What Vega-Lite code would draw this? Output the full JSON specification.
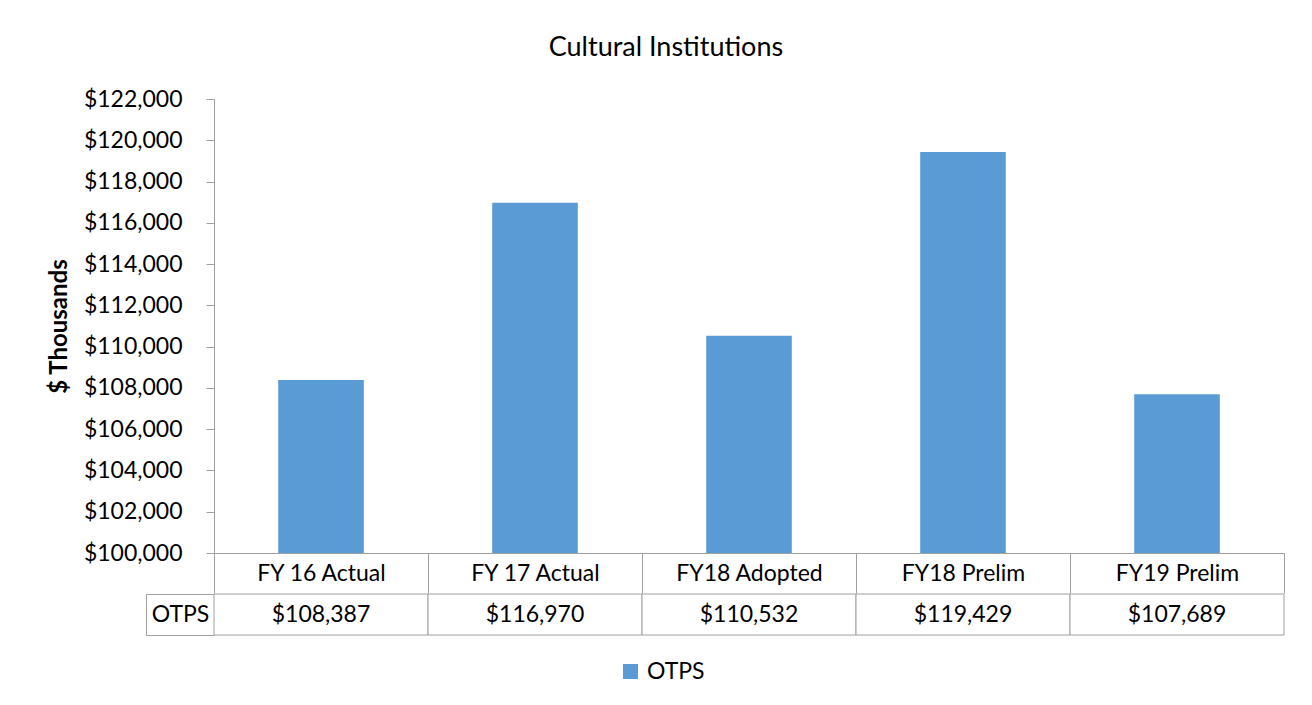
{
  "$schema": "https://vega.github.io/schema/vega-lite/v6.json",
  "padding": {"left": 47, "top": 34, "right": 5, "bottom": 5},
  "background": "white",
  "title": {"text": "Cultural Institutions", "font": "Lato", "fontSize": 27, "fontWeight": "normal", "color": "#000000", "anchor": "middle", "offset": 26},
  "datasets": {
    "main": [
      {"period": "FY 16 Actual", "series": "OTPS", "value": 108387},
      {"period": "FY 17 Actual", "series": "OTPS", "value": 116970},
      {"period": "FY18 Adopted", "series": "OTPS", "value": 110532},
      {"period": "FY18 Prelim", "series": "OTPS", "value": 119429},
      {"period": "FY19 Prelim", "series": "OTPS", "value": 107689}
    ]
  },
  "data": {"name": "main"},
  "spacing": -14,
  "resolve": {"scale": {"x": "independent", "y": "independent"}},
  "vconcat": [
    {
      "width": 1070,
      "height": 454,
      "mark": {"type": "bar", "clip": true, "width": {"band": 0.4}},
      "encoding": {
        "x": {
          "field": "period", "type": "nominal", "sort": null,
          "scale": {"paddingInner": 0, "paddingOuter": 0},
          "axis": {
            "title": null, "orient": "bottom", "ticks": true, "tickBand": "extent", "tickExtra": true,
            "tickSize": 40, "labelPadding": -20, "labelBaseline": "middle", "labelAngle": 0,
            "domainColor": "#a0a0a0", "tickColor": "#a0a0a0",
            "labelFont": "Lato", "labelFontSize": 23, "labelColor": "#000000"
          }
        },
        "y": {
          "field": "value", "type": "quantitative",
          "scale": {"domain": [100000, 122000], "zero": false, "nice": false},
          "axis": {
            "title": "$ Thousands", "titleFont": "Lato", "titleFontSize": 24, "titleFontWeight": "bold", "titleColor": "#000000", "titlePadding": 12,
            "format": "$,.0f",
            "values": [100000, 102000, 104000, 106000, 108000, 110000, 112000, 114000, 116000, 118000, 120000, 122000],
            "tickSize": 8, "labelPadding": 24, "grid": false,
            "domainColor": "#a0a0a0", "tickColor": "#a0a0a0",
            "labelFont": "Lato", "labelFontSize": 23, "labelColor": "#000000"
          }
        },
        "color": {
          "datum": "OTPS", "type": "nominal",
          "scale": {"range": ["#5B9BD5"]},
          "legend": {
            "title": null, "orient": "none", "legendX": 405, "legendY": 561, "padding": 0, "symbolType": "square", "symbolSize": 225,
            "symbolStrokeWidth": 0, "labelFont": "Lato", "labelFontSize": 23, "labelColor": "#000000",
            "labelOffset": 5
          }
        }
      }
    },
    {
      "width": 1070,
      "height": 41,
      "layer": [
        {
          "mark": {"type": "rect", "fill": "white", "stroke": "#a0a0a0", "strokeWidth": 1},
          "encoding": {
            "x": {"field": "period", "type": "nominal", "sort": null, "scale": {"paddingInner": 0, "paddingOuter": 0}, "axis": null},
            "y": {
              "field": "series", "type": "nominal", "scale": {"paddingInner": 0, "paddingOuter": 0},
              "axis": {
                "title": null, "orient": "left", "offset": 68, "domain": true, "domainColor": "#a0a0a0",
                "ticks": true, "tickBand": "extent", "tickExtra": true, "tickSize": -68, "tickColor": "#a0a0a0",
                "labelPadding": 34, "labelAlign": "center", "labelBaseline": "middle",
                "labelFont": "Lato", "labelFontSize": 23, "labelColor": "#000000"
              }
            }
          }
        },
        {
          "mark": {"type": "text", "font": "Lato", "fontSize": 23, "color": "#000000"},
          "encoding": {
            "x": {"field": "period", "type": "nominal", "sort": null},
            "y": {"field": "series", "type": "nominal"},
            "text": {"field": "value", "type": "quantitative", "format": "$,.0f"}
          }
        }
      ]
    }
  ],
  "config": {
    "view": {"stroke": null}
  }
}
